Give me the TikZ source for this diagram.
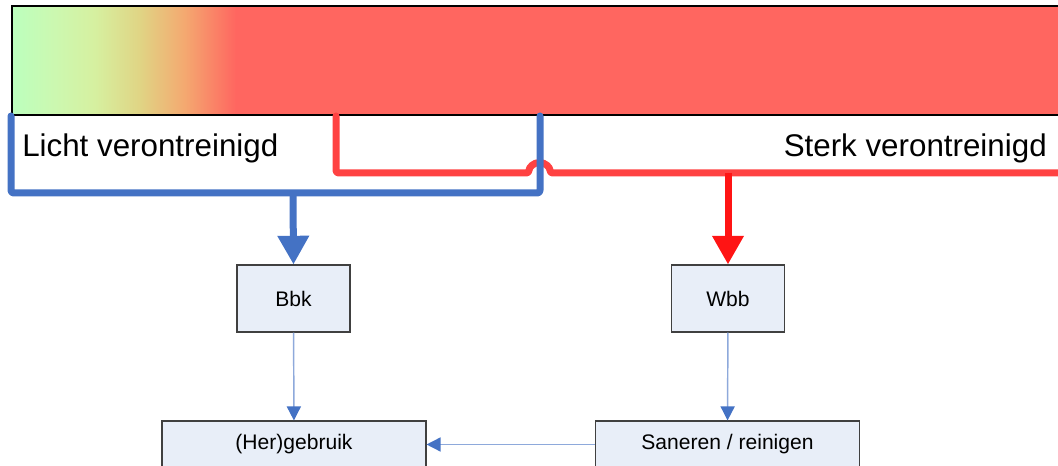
\documentclass[tikz,border=0pt]{standalone}
\usepackage{fontspec}
\setmainfont{Liberation Sans}
\usepackage{xcolor}
\usetikzlibrary{calc,arrows.meta}
\definecolor{barred}{HTML}{FF6660}
\definecolor{gA}{HTML}{BCFFBE}
\definecolor{gB}{HTML}{CCF8B0}
\definecolor{gC}{HTML}{D6F0A0}
\definecolor{gD}{HTML}{E0D484}
\definecolor{gE}{HTML}{F4A870}
\definecolor{lightblue}{HTML}{4472C4}
\definecolor{heavyred}{HTML}{FF4242}
\definecolor{arrowred}{HTML}{FF1414}
\definecolor{boxfill}{HTML}{E8EEF8}
\definecolor{boxline}{HTML}{404040}
\definecolor{thinline}{HTML}{8EA9DB}
\pgfdeclarehorizontalshading{contam}{100bp}{color(0bp)=(gA); color(25bp)=(gA);
  color(34.6bp)=(gB); color(43.5bp)=(gC); color(53.6bp)=(gD); color(63.6bp)=(gE);
  color(75bp)=(barred); color(100bp)=(barred)}
\tikzset{
  route/.style={line width=5.25pt, line cap=round, line join=round, rounded corners=2pt},
  blueroute/.style={route, draw=lightblue},
  redroute/.style={route, draw=heavyred},
  feed/.style={line width=5.25pt, -{Triangle[width=22.5pt,length=21.5pt]}},
  stepbox/.style={draw=boxline, fill=boxfill, line width=0.8pt, inner sep=0pt,
    font=\fontsize{15.8}{18}\selectfont},
  flow/.style={draw=thinline, line width=1.1pt, -{Triangle[width=10.5pt,length=10.5pt,color=lightblue]}},
  lab/.style={inner sep=0pt, font=\fontsize{23.5}{28}\selectfont},
}
\begin{document}
\begin{tikzpicture}[x=0.75pt,y=-0.75pt]
  \useasboundingbox (0,0) rectangle (1058,466);
  \clip (0,0) rectangle (1058,466);
  % contamination bar
  \shade[shading=contam] (12,6) rectangle (236,115);
  \fill[barred] (235.5,6) rectangle (1070,115);
  \draw[black, line width=1.6pt] (1070,6) -- (12,6) -- (12,115) -- (1070,115);
  \node[lab, anchor=base west] (licht) at (22,157) {Licht verontreinigd};
  \node[lab, anchor=base east] (sterk) at (1047,157) {Sterk verontreinigd};
  % boxes
  \node[stepbox, minimum width=84.75pt, minimum height=50.25pt] (bbk) at (293.5,298.5) {Bbk};
  \node[stepbox, minimum width=84.75pt, minimum height=50.25pt] (wbb) at (728,298.5) {Wbb};
  \node[stepbox, minimum width=198pt, minimum height=35.25pt] (herg) at (294,444.5) {(Her)gebruik};
  \node[stepbox, minimum width=198pt, minimum height=35.25pt] (san) at (727.5,444.5) {Saneren / reinigen};
  % routes from the bar
  \coordinate (bluejoin) at (293,193);
  \coordinate (redjoin) at (728,173);
  \draw[redroute] (336,116) -- (336,173) -- (529,173) arc (180:360:10.5) -- (1075,173);
  \draw[blueroute] (11,116) -- (11,193) -- (540,193) -- (540,116);
  \draw[feed, draw=lightblue, fill=lightblue] (bluejoin) -- (bbk.north);
  \draw[feed, draw=arrowred, fill=arrowred] (redjoin) -- (wbb.north);
  % flow between boxes
  \draw[flow] (bbk) -- (herg);
  \draw[flow] (wbb) -- (san);
  \draw[flow] (san) -- (herg);
\end{tikzpicture}
\end{document}
